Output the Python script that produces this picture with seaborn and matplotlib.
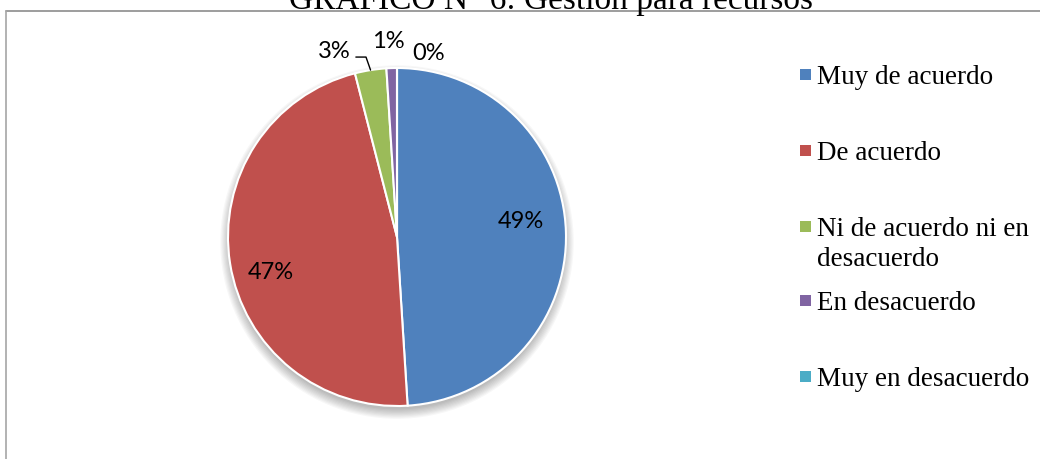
import matplotlib
matplotlib.use("Agg")
import matplotlib.pyplot as plt
import matplotlib.patches as mpatches
import numpy as np
import seaborn as sns

categories = ["Muy de acuerdo", "De acuerdo", "Ni de acuerdo ni en\ndesacuerdo",
              "En desacuerdo", "Muy en desacuerdo"]
values = [49, 47, 3, 1, 0]
pct_labels = ["49%", "47%", "3%", "1%", "0%"]
title = "GRÁFICO N° 6: Gestión para recursos"

sns.set_theme(style="white")
colors = ["#4F81BD", "#C0504D", "#9BBB59", "#8064A2", "#4BACC6"]

W, H = 1040, 460
fig = plt.figure(figsize=(W / 100, H / 100), dpi=100)
fig.patch.set_facecolor("white")

cx, cy, r = 397, 238, 169
ax = fig.add_axes([(cx - r) / W, (H - cy - r) / H, 2 * r / W, 2 * r / H])

wedges, _ = ax.pie(values, colors=colors, startangle=90, counterclock=False,
                   radius=1.0, wedgeprops=dict(edgecolor="white", linewidth=1.5),
                   normalize=True)
ax.set_xlim(-1, 1)
ax.set_ylim(-1, 1)
ax.set_aspect("equal")
ax.axis("off")
for w in wedges:
    w.set_zorder(2)

# soft shadow
for i in range(9):
    ax.add_patch(mpatches.Circle((0, -0.03), 0.99 + 0.007 * i, color="black",
                                 alpha=0.03, lw=0, zorder=0, clip_on=False))

label_font = dict(family=["Lato", "DejaVu Sans"], fontsize=17, color="black")
# label placement (relative to wedge mid-angle) : (angle offset deg, radius)
place = [(5.6, 0.74), (6.1, 0.773), (9.7, 1.162), (0.8, 1.161), (-9.8, 1.107)]
for w, lab, (da, rr) in zip(wedges, pct_labels, place):
    mid = np.deg2rad((w.theta1 + w.theta2) / 2 + da)
    ax.text(rr * np.cos(mid), rr * np.sin(mid), lab, ha="center", va="center",
            zorder=5, clip_on=False, **label_font)

# leader line for 3%
g = wedges[2]
ang = np.deg2rad((g.theta1 + g.theta2) / 2)
px, py = np.cos(ang), np.sin(ang)
ax.plot([px - 0.087, px - 0.027, px], [py + 0.077, py + 0.077, py],
        color="black", lw=1.0, zorder=5, clip_on=False)

# legend (Excel-like fixed slots)
slot_y = [75, 151, 227, 301, 377]
sq = 11
line_h = 30
for c, lab, yc in zip(colors, categories, slot_y):
    fig.add_artist(mpatches.Rectangle((800 / W, (H - yc - sq / 2) / H), sq / W, sq / H,
                                      transform=fig.transFigure, facecolor=c,
                                      edgecolor="none"))
    lines = lab.split("\n")
    for k, ln in enumerate(lines):
        fig.text(817 / W, (H - yc - 9 - k * line_h) / H, ln, ha="left",
                 va="baseline", family="Liberation Serif", fontsize=19.5,
                 color="black")

# title (partially cut at top like reference)
fig.text(551 / W, 1 - 9 / H, title, ha="center", va="baseline",
         family="Liberation Serif", fontsize=24, color="black")

# chart border
fig.add_artist(plt.Line2D([5.5 / W, 1.0], [1 - 12 / H, 1 - 12 / H],
                          transform=fig.transFigure, color="#8c8c8c", lw=1.2))
fig.add_artist(plt.Line2D([5.5 / W, 5.5 / W], [0, 1 - 12 / H],
                          transform=fig.transFigure, color="#a6a6a6", lw=1.2))

fig.savefig("out.png", dpi=100, facecolor="white")
